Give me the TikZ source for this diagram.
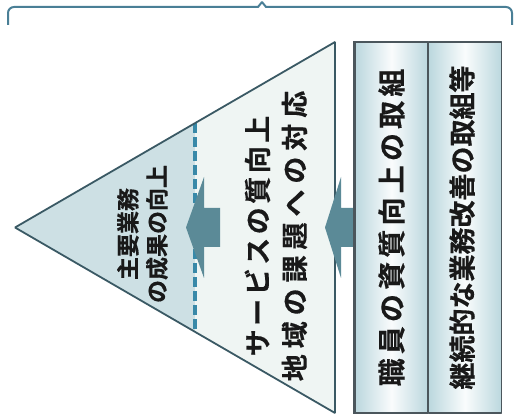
\documentclass[tikz,border=0pt]{standalone}
\usepackage{fontspec}
\newfontfamily\jpfont{Noto Sans CJK JP Bold}[FakeBold=0.4]
\newcommand{\spaced}[1]{\addfontfeature{LetterSpace=#1}}
\definecolor{edgecol}{HTML}{3A5964}
\definecolor{boxedge}{HTML}{4B565C}
\definecolor{innerfill}{HTML}{CDE0E4}
\definecolor{outerfill}{HTML}{EFF5F3}
\definecolor{boxtint}{HTML}{BBD7DE}
\definecolor{dashcol}{HTML}{3889A8}
\definecolor{arrowcol}{HTML}{5B8A97}
\definecolor{bracecol}{HTML}{4A7F96}
\begin{document}
\begin{tikzpicture}[>=latex,line join=bevel,
  jptext/.style={text=black!90,inner sep=0pt,rotate=90,align=center},
  goaltext/.style={jptext,font=\jpfont\fontsize{23bp}{29bp}\selectfont},
  servicetext/.style={jptext,font=\jpfont\fontsize{27bp}{37bp}\selectfont},
  boxtext/.style={jptext,font=\jpfont\fontsize{27bp}{32bp}\selectfont},
  cutline/.style={draw=dashcol,line width=4bp,dash pattern=on 10bp off 4bp},
  taskbox/.style={draw=boxedge,line width=1.8bp,minimum width=73bp,minimum height=371bp,
    inner sep=0pt,left color=boxtint,right color=boxtint,middle color=white!92!boxtint}]
  \useasboundingbox (0bp,0bp) rectangle (518bp,418bp);
  \pgfsetlinewidth{1.8bp}
%%
  % Brace over the whole figure
  \draw [bracecol,line width=2bp] (8bp,393bp) [rounded corners=6bp] -- (8bp,411bp) -- (200bp,411bp)
    [sharp corners] -- (258bp,411bp) -- (262bp,416bp) -- (266bp,411bp) -- (320bp,411bp)
    [rounded corners=6bp] -- (512bp,411bp) -- (512bp,393bp);
  % Node: triangle, inner part
  \coordinate (apex) at (15bp,190.5bp);
  \coordinate (top) at (335bp,376bp);
  \coordinate (bot) at (335bp,5bp);
  \coordinate (cuttop) at (195bp,294.8bp);
  \coordinate (cutbot) at (195bp,86.2bp);
  \fill [innerfill] (apex) -- (cuttop) -- (cutbot) -- cycle;
  \fill [outerfill] (cuttop) -- (top) -- (bot) -- (cutbot) -- cycle;
  \path [cutline] (cuttop) -- (cutbot);
  \draw [edgecol] (apex) -- (top) -- (bot) -- cycle;
  \node [goaltext] (goal) at (142.5bp,184bp) {主要業務\\の成果の向上};
  % Node: trapezoid
  \node [servicetext] (service) at (276bp,182bp)
    {{\spaced{13}サービスの質向上}\\{\spaced{22}地域の課題への対応}};
  % Node: the two boxes
  \node [taskbox] (staff) at (391.5bp,190.5bp) {};
  \node [taskbox] (reform) at (465bp,190.5bp) {};
  \node [boxtext,font=\jpfont\fontsize{28bp}{32bp}\selectfont] (stafftext) at (staff.center)
    {\spaced{15}職員の資質向上の取組};
  \node [boxtext] (reformtext) at ([xshift=-3bp]reform.center)
    {継続的な業務改善の取組等};
  % Edge: trapezoid -> inner triangle
  \fill [arrowcol] (186bp,190.5bp) -- (204bp,241bp) -- (204bp,210bp) -- (220bp,210bp)
    -- (220bp,171bp) -- (204bp,171bp) -- (204bp,140bp) -- cycle;
  % Edge: boxes -> trapezoid
  \fill [arrowcol] (325bp,190.5bp) -- (341bp,241bp) -- (341bp,210bp) -- (staff.west |- 0,210bp)
    -- (staff.west |- 0,171bp) -- (341bp,171bp) -- (341bp,140bp) -- cycle;
  \draw [boxedge,line width=1.8bp] (staff.north west) -- (staff.south west);
%
\end{tikzpicture}
\end{document}
